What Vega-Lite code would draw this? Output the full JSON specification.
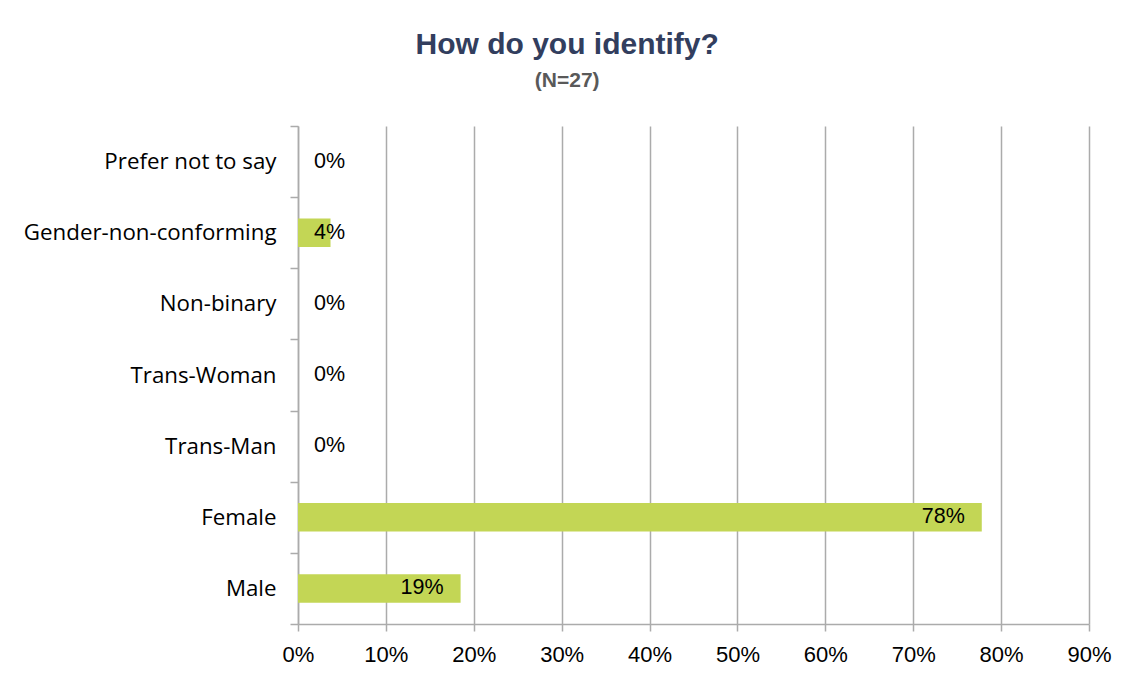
{
  "$schema": "https://vega.github.io/schema/vega-lite/v6.json",
  "autosize": "none",
  "width": 791,
  "height": 498,
  "padding": {"left": 298, "top": 126, "right": 47, "bottom": 60},
  "background": "white",
  "title": {
    "text": "How do you identify?",
    "subtitle": "(N=27)",
    "frame": "bounds",
    "anchor": "middle",
    "font": "Liberation Sans",
    "fontSize": 30,
    "fontWeight": "bold",
    "color": "#323E5E",
    "subtitleFont": "Liberation Sans",
    "subtitleFontSize": 21,
    "subtitleFontWeight": "bold",
    "subtitleColor": "#595959",
    "subtitlePadding": 10,
    "offset": 24
  },
  "data": {
    "values": [
      {"category": "Prefer not to say", "value": 0},
      {"category": "Gender-non-conforming", "value": 0.037},
      {"category": "Non-binary", "value": 0},
      {"category": "Trans-Woman", "value": 0},
      {"category": "Trans-Man", "value": 0},
      {"category": "Female", "value": 0.778},
      {"category": "Male", "value": 0.185}
    ]
  },
  "encoding": {
    "y": {
      "field": "category",
      "type": "nominal",
      "sort": null,
      "scale": {"paddingInner": 0, "paddingOuter": 0},
      "axis": {
        "title": null,
        "domain": true,
        "domainColor": "#ABABAB",
        "domainWidth": 1.5,
        "ticks": true,
        "tickBand": "extent",
        "tickSize": 8,
        "tickColor": "#ABABAB",
        "tickWidth": 1.5,
        "labelPadding": 14,
        "labelLimit": 0,
        "labelFont": "Open Sans",
        "labelFontSize": 22.3,
        "labelColor": "#000000",
        "grid": false
      }
    }
  },
  "layer": [
    {
      "mark": {"type": "bar", "color": "#C3D655", "height": {"band": 0.4}},
      "encoding": {
        "x": {
          "field": "value",
          "type": "quantitative",
          "scale": {"domain": [0, 0.9], "nice": false},
          "axis": {
            "title": null,
            "values": [0, 0.1, 0.2, 0.3, 0.4, 0.5, 0.6, 0.7, 0.8, 0.9],
            "format": ".0%",
            "grid": true,
            "gridColor": "#ABABAB",
            "gridWidth": 1.5,
            "domain": true,
            "domainColor": "#ABABAB",
            "domainWidth": 1.5,
            "ticks": true,
            "tickSize": 7,
            "tickColor": "#ABABAB",
            "tickWidth": 1.5,
            "labelPadding": 13,
            "labelFlush": false,
            "labelOverlap": false,
            "labelFont": "Liberation Sans",
            "labelFontSize": 22,
            "labelColor": "#000000"
          }
        }
      }
    },
    {
      "transform": [{"filter": "datum.value < 0.06"}],
      "mark": {"type": "text", "align": "left", "baseline": "middle", "dx": 16, "font": "Liberation Sans", "fontSize": 21.5, "color": "#000000"},
      "encoding": {
        "x": {"datum": 0, "type": "quantitative"},
        "text": {"field": "value", "type": "quantitative", "format": ".0%"}
      }
    },
    {
      "transform": [{"filter": "datum.value >= 0.06"}],
      "mark": {"type": "text", "align": "right", "baseline": "middle", "dx": -17, "font": "Liberation Sans", "fontSize": 21.5, "color": "#000000"},
      "encoding": {
        "x": {"field": "value", "type": "quantitative"},
        "text": {"field": "value", "type": "quantitative", "format": ".0%"}
      }
    }
  ],
  "config": {
    "view": {"stroke": null}
  }
}
